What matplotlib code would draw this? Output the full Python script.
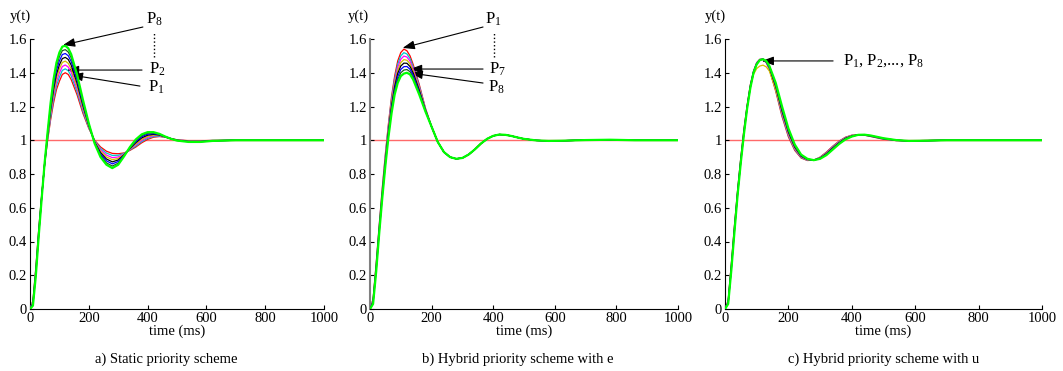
import numpy as np
import matplotlib
matplotlib.use('Agg')
import matplotlib.pyplot as plt

plt.rcParams['font.family'] = ['Liberation Serif', 'DejaVu Serif']
plt.rcParams['mathtext.fontset'] = 'custom'
plt.rcParams['mathtext.rm'] = 'Liberation Serif'
plt.rcParams['mathtext.it'] = 'Liberation Serif:italic'

# time axis (ms), shared by all panels
t_ms = [0, 10, 20, 30, 40, 50, 60, 70, 80, 90,
        100, 110, 120, 130, 140, 160, 180, 200, 220, 240,
        260, 280, 300, 320, 340, 360, 380, 400, 420, 440,
        460, 480, 500, 540, 580, 620, 700, 780, 860, 1000]

# y(t), one row per time sample, columns P1..P8
y_static = [
    [0.0] * 8,
    [0.050, 0.046, 0.041, 0.037, 0.033, 0.029, 0.024, 0.020],
    [0.250, 0.243, 0.236, 0.229, 0.221, 0.214, 0.207, 0.200],
    [0.480, 0.474, 0.469, 0.463, 0.457, 0.451, 0.446, 0.440],
    [0.680, 0.677, 0.674, 0.671, 0.669, 0.666, 0.663, 0.660],
    [0.860, 0.861, 0.863, 0.864, 0.866, 0.867, 0.869, 0.870],
    [1.000, 1.007, 1.014, 1.021, 1.029, 1.036, 1.043, 1.050],
    [1.120, 1.134, 1.149, 1.163, 1.177, 1.191, 1.206, 1.220],
    [1.220, 1.240, 1.260, 1.280, 1.300, 1.320, 1.340, 1.360],
    [1.300, 1.323, 1.346, 1.369, 1.391, 1.414, 1.437, 1.460],
    [1.350, 1.374, 1.399, 1.423, 1.447, 1.471, 1.496, 1.520],
    [1.390, 1.414, 1.437, 1.461, 1.484, 1.508, 1.531, 1.555],
    [1.400, 1.423, 1.446, 1.469, 1.491, 1.514, 1.537, 1.560],
    [1.390, 1.412, 1.434, 1.456, 1.479, 1.501, 1.523, 1.545],
    [1.360, 1.381, 1.403, 1.424, 1.446, 1.467, 1.489, 1.510],
    [1.270, 1.287, 1.304, 1.321, 1.339, 1.356, 1.373, 1.390],
    [1.160, 1.171, 1.183, 1.194, 1.206, 1.217, 1.229, 1.240],
    [1.070, 1.074, 1.079, 1.083, 1.087, 1.091, 1.096, 1.100],
    [1.000, 0.997, 0.994, 0.991, 0.989, 0.986, 0.983, 0.980],
    [0.960, 0.951, 0.943, 0.934, 0.926, 0.917, 0.909, 0.900],
    [0.935, 0.924, 0.912, 0.901, 0.889, 0.878, 0.866, 0.855],
    [0.922, 0.910, 0.897, 0.885, 0.872, 0.860, 0.847, 0.835],
    [0.920, 0.911, 0.901, 0.892, 0.883, 0.874, 0.864, 0.855],
    [0.925, 0.922, 0.919, 0.916, 0.914, 0.911, 0.908, 0.905],
    [0.940, 0.943, 0.946, 0.949, 0.951, 0.954, 0.957, 0.960],
    [0.960, 0.966, 0.973, 0.979, 0.986, 0.992, 0.999, 1.005],
    [0.985, 0.992, 0.999, 1.006, 1.014, 1.021, 1.028, 1.035],
    [1.005, 1.011, 1.017, 1.023, 1.030, 1.036, 1.042, 1.048],
    [1.018, 1.022, 1.027, 1.031, 1.035, 1.039, 1.044, 1.048],
    [1.022, 1.024, 1.027, 1.029, 1.031, 1.033, 1.036, 1.038],
    [1.018, 1.019, 1.019, 1.020, 1.020, 1.021, 1.021, 1.022],
    [1.010, 1.010, 1.009, 1.009, 1.009, 1.009, 1.008, 1.008],
    [1.003, 1.002, 1.002, 1.001, 1.000, 0.999, 0.999, 0.998],
    [0.997, 0.996, 0.995, 0.994, 0.993, 0.992, 0.991, 0.990],
    [0.997, 0.996, 0.995, 0.994, 0.993, 0.992, 0.991, 0.990],
    [0.999, 0.999, 0.998, 0.998, 0.997, 0.997, 0.996, 0.996],
    [1.0] * 8,
    [1.0] * 8,
    [1.0] * 8,
    [1.0] * 8,
]

y_hybrid_e = [
    [0.0] * 8,
    [0.060, 0.056, 0.051, 0.047, 0.043, 0.039, 0.034, 0.030],
    [0.270, 0.263, 0.256, 0.249, 0.241, 0.234, 0.227, 0.220],
    [0.500, 0.493, 0.486, 0.479, 0.471, 0.464, 0.457, 0.450],
    [0.720, 0.711, 0.703, 0.694, 0.686, 0.677, 0.669, 0.660],
    [0.920, 0.910, 0.900, 0.890, 0.880, 0.870, 0.860, 0.850],
    [1.100, 1.089, 1.077, 1.066, 1.054, 1.043, 1.031, 1.020],
    [1.260, 1.246, 1.231, 1.217, 1.203, 1.189, 1.174, 1.160],
    [1.380, 1.364, 1.349, 1.333, 1.317, 1.301, 1.286, 1.270],
    [1.470, 1.451, 1.433, 1.414, 1.396, 1.377, 1.359, 1.340],
    [1.520, 1.500, 1.480, 1.460, 1.440, 1.420, 1.400, 1.380],
    [1.540, 1.519, 1.499, 1.478, 1.457, 1.436, 1.416, 1.395],
    [1.530, 1.511, 1.493, 1.474, 1.456, 1.437, 1.419, 1.400],
    [1.500, 1.484, 1.469, 1.453, 1.437, 1.421, 1.406, 1.390],
    [1.450, 1.437, 1.424, 1.411, 1.399, 1.386, 1.373, 1.360],
    [1.330, 1.321, 1.313, 1.304, 1.296, 1.287, 1.279, 1.270],
    [1.190, 1.187, 1.184, 1.181, 1.179, 1.176, 1.173, 1.170],
    [1.080] * 8,
    [0.990] * 8,
    [0.930] * 8,
    [0.900] * 8,
    [0.890] * 8,
    [0.895] * 8,
    [0.915] * 8,
    [0.945] * 8,
    [0.980] * 8,
    [1.008] * 8,
    [1.026] * 8,
    [1.034] * 8,
    [1.032] * 8,
    [1.025] * 8,
    [1.016] * 8,
    [1.008] * 8,
    [0.999] * 8,
    [0.996] * 8,
    [0.997] * 8,
    [1.001] * 8,
    [1.003] * 8,
    [1.000] * 8,
    [1.000] * 8,
]

y_hybrid_u = [
    [0.0] * 8,
    [0.050, 0.047, 0.044, 0.041, 0.039, 0.036, 0.033, 0.030],
    [0.270, 0.264, 0.259, 0.253, 0.247, 0.241, 0.236, 0.230],
    [0.500, 0.494, 0.489, 0.483, 0.477, 0.471, 0.466, 0.460],
    [0.710, 0.706, 0.701, 0.697, 0.693, 0.689, 0.684, 0.680],
    [0.900, 0.896, 0.891, 0.887, 0.883, 0.879, 0.874, 0.870],
    [1.070, 1.066, 1.061, 1.057, 1.053, 1.049, 1.044, 1.040],
    [1.210, 1.207, 1.204, 1.201, 1.199, 1.196, 1.193, 1.190],
    [1.330, 1.327, 1.324, 1.321, 1.319, 1.316, 1.313, 1.310],
    [1.410, 1.409, 1.407, 1.390, 1.404, 1.403, 1.401, 1.400],
    [1.460, 1.459, 1.457, 1.425, 1.454, 1.453, 1.451, 1.450],
    [1.480, 1.479, 1.479, 1.440, 1.477, 1.476, 1.476, 1.475],
    [1.480, 1.480, 1.480, 1.445, 1.480, 1.480, 1.480, 1.480],
    [1.460, 1.461, 1.463, 1.435, 1.466, 1.467, 1.469, 1.470],
    [1.420, 1.423, 1.426, 1.410, 1.431, 1.434, 1.437, 1.440],
    [1.290, 1.297, 1.304, 1.300, 1.319, 1.326, 1.333, 1.340],
    [1.140, 1.149, 1.157, 1.166, 1.174, 1.183, 1.191, 1.200],
    [1.020, 1.027, 1.034, 1.041, 1.049, 1.056, 1.063, 1.070],
    [0.940, 0.945, 0.950, 0.955, 0.960, 0.965, 0.970, 0.975],
    [0.895, 0.898, 0.901, 0.904, 0.906, 0.909, 0.912, 0.915],
    [0.880, 0.881, 0.883, 0.884, 0.886, 0.887, 0.889, 0.890],
    [0.882] * 8,
    [0.900, 0.899, 0.897, 0.896, 0.894, 0.893, 0.891, 0.890],
    [0.930, 0.927, 0.925, 0.922, 0.920, 0.917, 0.915, 0.912],
    [0.965, 0.962, 0.959, 0.956, 0.954, 0.951, 0.948, 0.945],
    [0.995, 0.993, 0.990, 0.988, 0.985, 0.983, 0.980, 0.978],
    [1.018, 1.016, 1.014, 1.012, 1.011, 1.009, 1.007, 1.005],
    [1.030, 1.029, 1.028, 1.027, 1.025, 1.024, 1.023, 1.022],
    [1.033, 1.033, 1.033, 1.033, 1.032, 1.032, 1.032, 1.032],
    [1.030, 1.030, 1.031, 1.031, 1.032, 1.032, 1.033, 1.033],
    [1.022, 1.023, 1.024, 1.025, 1.025, 1.026, 1.027, 1.028],
    [1.014, 1.015, 1.016, 1.017, 1.017, 1.018, 1.019, 1.020],
    [1.006, 1.007, 1.008, 1.009, 1.009, 1.010, 1.011, 1.012],
    [0.998, 0.998, 0.999, 0.999, 1.000, 1.000, 1.001, 1.001],
    [0.996] * 8,
    [0.998, 0.998, 0.998, 0.998, 0.997, 0.997, 0.997, 0.997],
    [1.0] * 8,
    [1.0] * 8,
    [1.0] * 8,
    [1.0] * 8,
]

setpoint_t = [0, 1000]
setpoint_y = [1.0, 1.0]

captions = ['a) Static priority scheme',
            'b) Hybrid priority scheme with e',
            'c) Hybrid priority scheme with u']
x_ticks = [0, 200, 400, 600, 800, 1000]
y_ticks = [0, 0.2, 0.4, 0.6, 0.8, 1, 1.2, 1.4, 1.6]

colors = ['#ff0000', '#00c8c8', '#ff00ff', '#d2c000', '#000000',
          '#0000ff', '#1f5a1f', '#00ff00']

fig = plt.figure(figsize=(10.63, 3.71), dpi=100)
W, H = 1063.0, 371.0
# axes boxes in pixels: left, width
boxes = [(30, 294), (370, 308), (725, 317)]
ylab_x = [20, 358, 715]
cap_x = [166, 518, 884]
data = [y_static, y_hybrid_e, y_hybrid_u]

arrow = dict(arrowstyle='-|>,head_length=0.6,head_width=0.22', color='k',
             lw=0.8, mutation_scale=12, shrinkA=0, shrinkB=0)

axes = []
for i, (left, width) in enumerate(boxes):
    ax = fig.add_axes([left / W, 62 / H, width / W, 270 / H])
    axes.append(ax)
    ax.plot(setpoint_t, setpoint_y, color='#ff6a6a', lw=1.0, zorder=1)
    y = np.array(data[i]).T
    for k in range(8):
        lw = 1.6 if k == 7 else 0.9
        ax.plot(t_ms, y[k], color=colors[k], lw=lw, zorder=2 + k)
    ax.set_xlim(0, 1000)
    ax.set_ylim(0, 1.6)
    ax.set_xticks(x_ticks)
    ax.set_yticks(y_ticks)
    ax.set_yticklabels(['%g' % v for v in y_ticks])
    ax.spines['top'].set_visible(False)
    ax.spines['right'].set_visible(False)
    ax.tick_params(direction='in', length=3, labelsize=10.5, pad=2, width=0.8)
    ax.set_xlabel('time (ms)', fontsize=10.5, labelpad=0)
    fig.text(ylab_x[i] / W, (H - 16) / H, 'y(t)', fontsize=10.5,
             ha='center', va='center')
    fig.text(cap_x[i] / W, (H - 359) / H, captions[i], fontsize=10.5,
             ha='center', va='center')

axes[1].spines['left'].set_color('0.5')
axes[1].spines['left'].set_linewidth(1.5)

lab = dict(fontsize=12, va='baseline', ha='left', annotation_clip=False)

# a) static
ax = axes[0]
ax.annotate('', xy=(112, 1.564), xytext=(384, 1.671), arrowprops=arrow,
            annotation_clip=False)
ax.annotate('', xy=(126, 1.416), xytext=(381, 1.416), arrowprops=arrow)
ax.annotate('', xy=(139, 1.387), xytext=(374, 1.321), arrowprops=arrow)
ax.annotate(r'$\mathregular{P_8}$', xy=(393, 1.69), **lab)
ax.annotate(r'$\mathregular{P_2}$', xy=(405, 1.393), **lab)
ax.annotate(r'$\mathregular{P_1}$', xy=(400, 1.288), **lab)
ax.plot([422, 422], [1.495, 1.634], 'k:', lw=1, clip_on=False)

# b) hybrid with e
ax = axes[1]
ax.annotate('', xy=(106, 1.547), xytext=(367, 1.671), arrowprops=arrow,
            annotation_clip=False)
ax.annotate('', xy=(130, 1.422), xytext=(367, 1.422), arrowprops=arrow)
ax.annotate('', xy=(132, 1.398), xytext=(367, 1.339), arrowprops=arrow)
ax.annotate(r'$\mathregular{P_1}$', xy=(373, 1.693), **lab)
ax.annotate(r'$\mathregular{P_7}$', xy=(386, 1.397), **lab)
ax.annotate(r'$\mathregular{P_8}$', xy=(382, 1.288), **lab)
ax.plot([403, 403], [1.495, 1.634], 'k:', lw=1, clip_on=False)

# c) hybrid with u
ax = axes[2]
ax.annotate('', xy=(116, 1.47), xytext=(341, 1.47), arrowprops=arrow)
ax.annotate(r'$\mathregular{P_1}$, $\mathregular{P_2}$,..., $\mathregular{P_8}$',
            xy=(373, 1.446), **lab)

fig.savefig('out.png', dpi=100)
